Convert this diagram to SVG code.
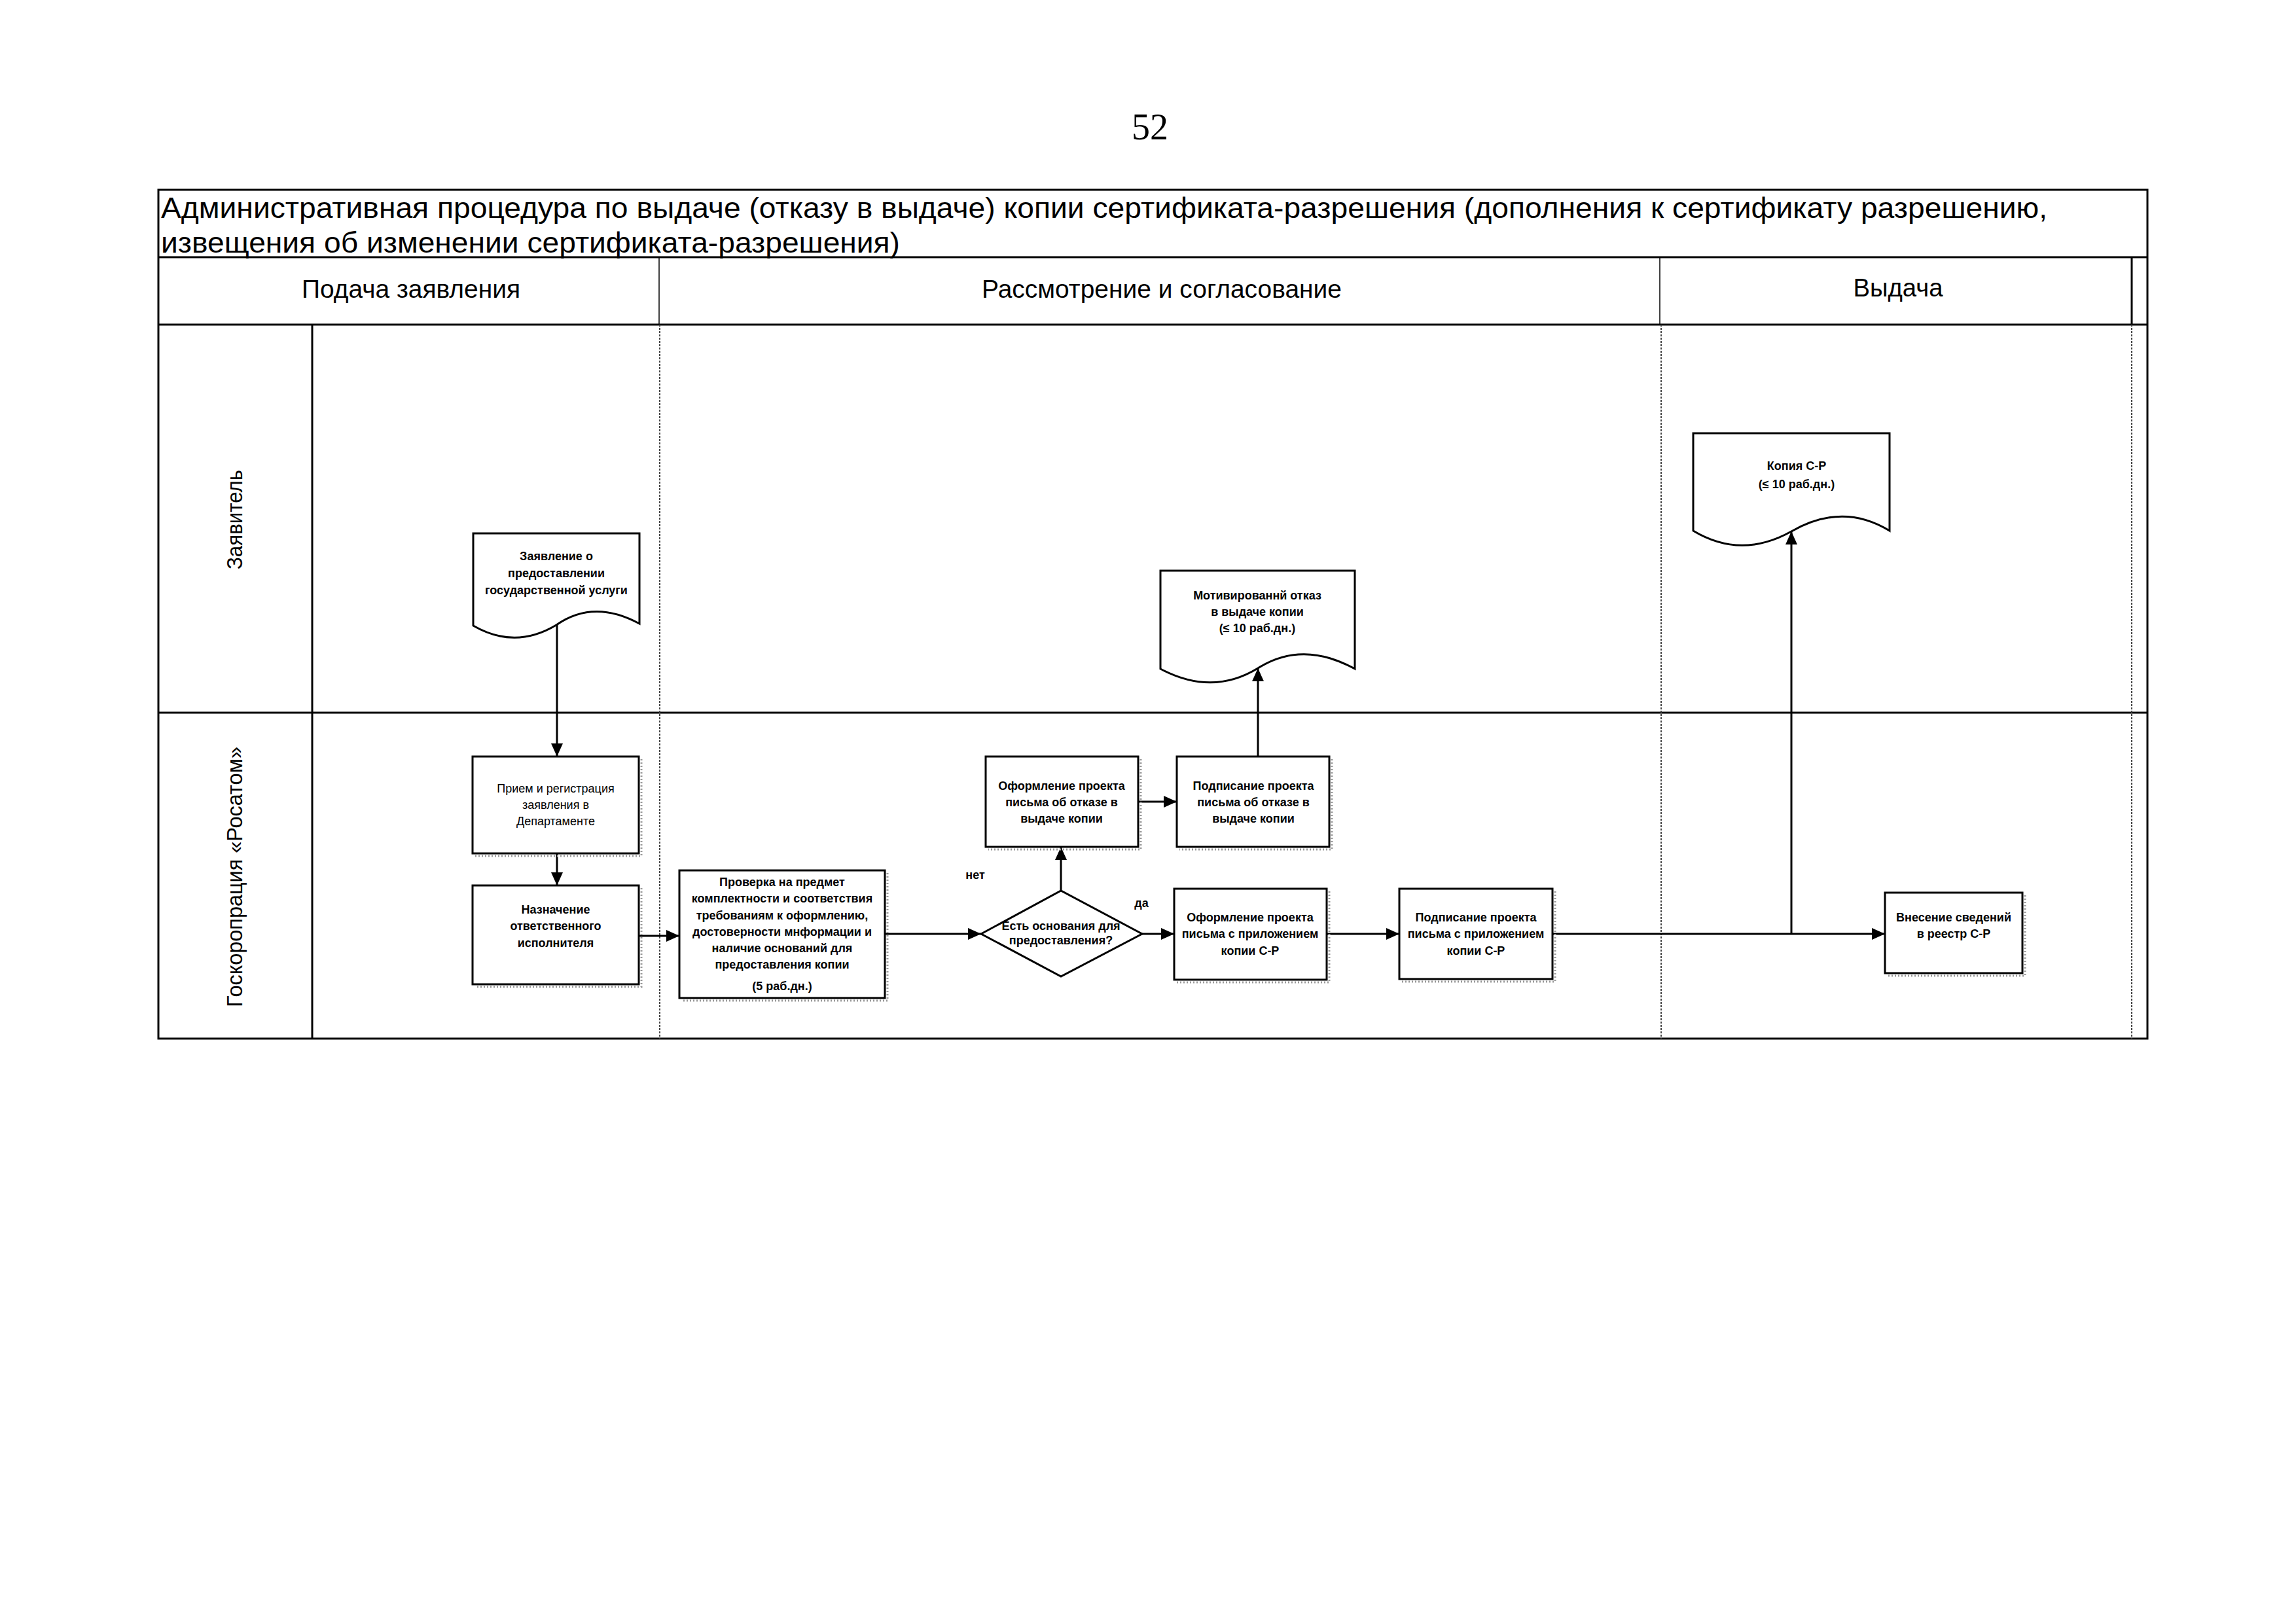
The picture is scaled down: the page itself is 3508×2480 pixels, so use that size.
<svg xmlns="http://www.w3.org/2000/svg" width="3508" height="2480" viewBox="0 0 3508 2480">
<style>
  .frame{fill:none;stroke:#000;stroke-width:3}
  .thin{fill:none;stroke:#000;stroke-width:1.5}
  .dot{fill:none;stroke:#444;stroke-width:2;stroke-dasharray:3 2}
  .node{fill:#fff;stroke:#000;stroke-width:3}
  .sh{fill:none;stroke:#999;stroke-width:3;stroke-dasharray:2 3}
  .conn{fill:none;stroke:#000;stroke-width:3}
  .t{font-family:"Liberation Sans","Noto Sans",sans-serif;font-size:18px;font-weight:bold;text-anchor:middle;fill:#000}
  .tr{font-weight:normal}
  .title{font-family:"Liberation Sans","Noto Sans",sans-serif;font-size:44px;fill:#000}
  .hdr{font-family:"Liberation Sans","Noto Sans",sans-serif;font-size:38px;text-anchor:middle;fill:#000}
  .lane{font-family:"Liberation Sans","Noto Sans",sans-serif;font-size:34px;text-anchor:middle;fill:#000}
  .pg{font-family:"Liberation Serif","Times New Roman",serif;font-size:56px;text-anchor:middle;fill:#000}
</style>
<defs>
  <marker id="arr" markerUnits="userSpaceOnUse" markerWidth="22" markerHeight="20" refX="20" refY="9" orient="auto">
    <path d="M0,0 L20,9 L0,18 Z" fill="#000"/>
  </marker>
</defs>
<rect x="0" y="0" width="3508" height="2480" fill="#fff"/>

<text class="pg" x="1757" y="213">52</text>

<g id="table">
  <rect class="frame" x="242" y="290" width="3039" height="1297"/>
  <line class="frame" x1="242" y1="393" x2="3281" y2="393"/>
  <line class="frame" x1="242" y1="496" x2="3281" y2="496"/>
  <line class="frame" x1="242" y1="1089" x2="3281" y2="1089"/>
  <line class="thin" x1="1007" y1="393" x2="1007" y2="496"/>
  <line class="thin" x1="2536" y1="393" x2="2536" y2="496"/>
  <line class="frame" x1="3257" y1="393" x2="3257" y2="496"/>
  <line class="frame" x1="477" y1="496" x2="477" y2="1587"/>
  <line class="dot" x1="1008" y1="496" x2="1008" y2="1587"/>
  <line class="dot" x1="2538" y1="496" x2="2538" y2="1587"/>
  <line class="dot" x1="3257" y1="496" x2="3257" y2="1587"/>
  <text class="title" x="246" y="333" textLength="2882" lengthAdjust="spacingAndGlyphs">Административная процедура по выдаче (отказу в выдаче) копии сертификата-разрешения (дополнения к сертификату разрешению,</text>
  <text class="title" x="246" y="386" textLength="1129" lengthAdjust="spacingAndGlyphs">извещения об изменении сертификата-разрешения)</text>
  <text class="hdr" x="628" y="455" textLength="334" lengthAdjust="spacingAndGlyphs">Подача заявления</text>
  <text class="hdr" x="1775" y="455" textLength="550" lengthAdjust="spacingAndGlyphs">Рассмотрение и согласование</text>
  <text class="hdr" x="2900" y="453" textLength="137" lengthAdjust="spacingAndGlyphs">Выдача</text>
  <text class="lane" transform="translate(370,794) rotate(-90)" textLength="152" lengthAdjust="spacingAndGlyphs">Заявитель</text>
  <text class="lane" transform="translate(370,1340) rotate(-90)" textLength="398" lengthAdjust="spacingAndGlyphs">Госкоропрация «Росатом»</text>
</g>

<g id="connectors">
  <path class="conn" d="M851,955 V1156" marker-end="url(#arr)"/>
  <path class="conn" d="M851,1304 V1353" marker-end="url(#arr)"/>
  <path class="conn" d="M977,1430 H1038" marker-end="url(#arr)"/>
  <path class="conn" d="M1352,1427 H1499" marker-end="url(#arr)"/>
  <path class="conn" d="M1621,1361 V1294" marker-end="url(#arr)"/>
  <path class="conn" d="M1739,1225 H1798" marker-end="url(#arr)"/>
  <path class="conn" d="M1922,1156 V1021" marker-end="url(#arr)"/>
  <path class="conn" d="M1745,1427 H1794" marker-end="url(#arr)"/>
  <path class="conn" d="M2027,1427 H2138" marker-end="url(#arr)"/>
  <path class="conn" d="M2372,1427 H2880" marker-end="url(#arr)"/>
  <path class="conn" d="M2737,1427 V812" marker-end="url(#arr)"/>
  <text class="t" x="1490" y="1343">нет</text>
  <text class="t" x="1744" y="1386">да</text>
</g>

<g id="doc-zayavlenie">
  <path class="node" d="M723,815 H977 V953 Q907,915 850,955 Q787,993 723,956 Z"/>
  <text class="t" x="850" y="856">Заявление о</text>
  <text class="t" x="850" y="882">предоставлении</text>
  <text class="t" x="850" y="908">государственной услуги</text>
</g>

<g id="priem">
  <polyline class="sh" points="980,1160 980,1308 726,1308"/>
  <rect class="node" x="722" y="1156" width="254" height="148"/>
  <text class="t tr" x="849" y="1211">Прием и регистрация</text>
  <text class="t tr" x="849" y="1236">заявления в</text>
  <text class="t tr" x="849" y="1261">Департаменте</text>
</g>

<g id="naznachenie">
  <polyline class="sh" points="980,1357 980,1508 726,1508"/>
  <rect class="node" x="722" y="1353" width="254" height="151"/>
  <text class="t" x="849" y="1396">Назначение</text>
  <text class="t" x="849" y="1421">ответственного</text>
  <text class="t" x="849" y="1447">исполнителя</text>
</g>

<g id="proverka">
  <polyline class="sh" points="1356,1334 1356,1529 1042,1529"/>
  <rect class="node" x="1038" y="1330" width="314" height="195"/>
  <text class="t" x="1195" y="1354">Проверка на предмет</text>
  <text class="t" x="1195" y="1379">комплектности и соответствия</text>
  <text class="t" x="1195" y="1405">требованиям к оформлению,</text>
  <text class="t" x="1195" y="1430">достоверности мнформации и</text>
  <text class="t" x="1195" y="1455">наличие оснований для</text>
  <text class="t" x="1195" y="1480">предоставления копии</text>
  <text class="t" x="1195" y="1513">(5 раб.дн.)</text>
</g>

<g id="decision">
  <polygon class="node" points="1499,1427 1621,1361 1745,1427 1621,1492"/>
  <text class="t" x="1621" y="1421">Есть основания для</text>
  <text class="t" x="1621" y="1443">предоставления?</text>
</g>

<g id="oformlenie-otkaz">
  <polyline class="sh" points="1743,1160 1743,1298 1510,1298"/>
  <rect class="node" x="1506" y="1156" width="233" height="138"/>
  <text class="t" x="1622" y="1207">Оформление проекта</text>
  <text class="t" x="1622" y="1232">письма об отказе в</text>
  <text class="t" x="1622" y="1257">выдаче копии</text>
</g>

<g id="podpisanie-otkaz">
  <polyline class="sh" points="2035,1160 2035,1298 1802,1298"/>
  <rect class="node" x="1798" y="1156" width="233" height="138"/>
  <text class="t" x="1915" y="1207">Подписание проекта</text>
  <text class="t" x="1915" y="1232">письма об отказе в</text>
  <text class="t" x="1915" y="1257">выдаче копии</text>
</g>

<g id="doc-otkaz">
  <path class="node" d="M1773,872 H2070 V1022 Q1990,978 1922,1021 Q1852,1064 1773,1022 Z"/>
  <text class="t" x="1921" y="916">Мотивированнй отказ</text>
  <text class="t" x="1921" y="941">в выдаче копии</text>
  <text class="t" x="1921" y="966">(≤ 10  раб.дн.)</text>
</g>

<g id="oformlenie-sr">
  <polyline class="sh" points="2031,1362 2031,1501 1798,1501"/>
  <rect class="node" x="1794" y="1358" width="233" height="139"/>
  <text class="t" x="1910" y="1408">Оформление проекта</text>
  <text class="t" x="1910" y="1433">письма с приложением</text>
  <text class="t" x="1910" y="1459">копии С-Р</text>
</g>

<g id="podpisanie-sr">
  <polyline class="sh" points="2376,1362 2376,1500 2142,1500"/>
  <rect class="node" x="2138" y="1358" width="234" height="138"/>
  <text class="t" x="2255" y="1408">Подписание проекта</text>
  <text class="t" x="2255" y="1433">письма с приложением</text>
  <text class="t" x="2255" y="1459">копии С-Р</text>
</g>

<g id="vnesenie">
  <polyline class="sh" points="3094,1368 3094,1491 2884,1491"/>
  <rect class="node" x="2880" y="1364" width="210" height="123"/>
  <text class="t" x="2985" y="1408">Внесение сведений</text>
  <text class="t" x="2985" y="1433">в реестр С-Р</text>
</g>

<g id="doc-kopiya">
  <path class="node" d="M2587,662 H2887 V811 Q2815,767 2737,812 Q2660,855 2587,811 Z"/>
  <text class="t" x="2745" y="718">Копия С-Р</text>
  <text class="t" x="2745" y="746">(≤ 10  раб.дн.)</text>
</g>
</svg>
